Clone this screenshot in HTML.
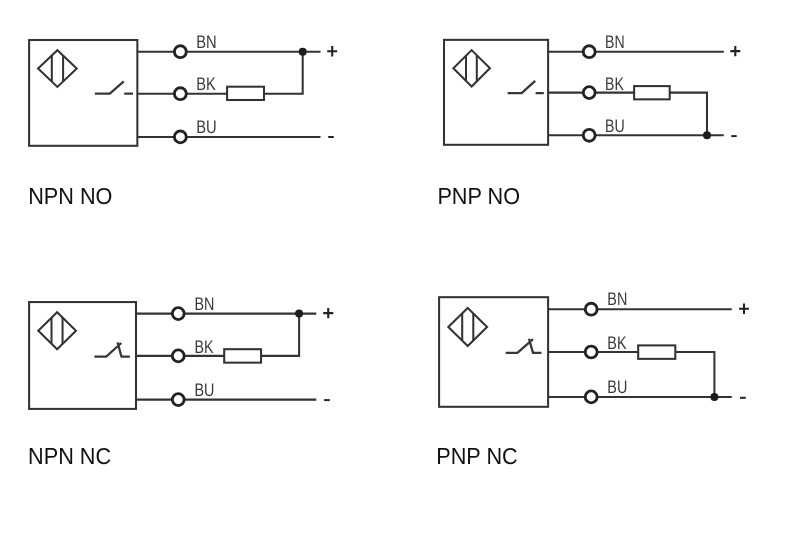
<!DOCTYPE html>
<html><head><meta charset="utf-8"><style>
html,body{margin:0;padding:0;background:#fff;width:789px;height:541px;overflow:hidden}
svg{display:block}
text{font-family:"Liberation Sans",sans-serif;text-rendering:geometricPrecision}
svg{will-change:transform}
</style></head><body>
<svg width="789" height="541" viewBox="0 0 789 541">
<rect width="789" height="541" fill="#fff"/>
<rect x="29.1" y="40" width="108.25" height="105.8" fill="none" stroke="#333" stroke-width="2.05"/>
<path d="M38.05 68.6L57.4 50.25L76.75 68.6L57.4 86.95Z" fill="none" stroke="#333" stroke-width="2.05" stroke-linejoin="miter"/>
<path d="M51.8 55.56V81.64" stroke="#333" stroke-width="2.05"/>
<path d="M63.1 55.66V81.54" stroke="#333" stroke-width="2.05"/>
<path d="M94.9 93.7H109.8L123.8 81.4M124.2 93.7H133" fill="none" stroke="#383838" stroke-width="2.3" stroke-linecap="butt" stroke-linejoin="round"/>
<path d="M137.35 51.7H320.5" stroke="#333" stroke-width="2.05"/>
<path d="M137.35 136.9H320.5" stroke="#333" stroke-width="2.05"/>
<path d="M137.35 93.7H227.1" stroke="#333" stroke-width="2.05"/>
<path d="M264 93.7H302.7V51.7" fill="none" stroke="#333" stroke-width="2.05"/>
<rect x="227.1" y="86.7" width="36.9" height="13.3" fill="#fff" stroke="#333" stroke-width="2.05"/>
<circle cx="302.7" cy="51.7" r="4" fill="#1c1c1c"/>
<circle cx="180.35" cy="51.7" r="5.95" fill="#fff" stroke="#222" stroke-width="2.85"/>
<circle cx="180.35" cy="93.7" r="5.95" fill="#fff" stroke="#222" stroke-width="2.85"/>
<circle cx="180.35" cy="136.9" r="5.95" fill="#fff" stroke="#222" stroke-width="2.85"/>
<text transform="translate(196.3 47.8) scale(0.865 1.08)" font-size="17" fill="#3a3a3a">BN</text>
<text transform="translate(196.3 90.2) scale(0.865 1.08)" font-size="17" fill="#3a3a3a">BK</text>
<text transform="translate(196.3 133.1) scale(0.865 1.08)" font-size="17" fill="#3a3a3a">BU</text>
<path d="M327.2 51.2H337.2M332.2 46V56.4" stroke="#222" stroke-width="2.1"/>
<path d="M328.2 137H333.8" stroke="#222" stroke-width="2"/>
<text transform="translate(28.2 204) scale(0.985 1.05)" font-size="22" fill="#111">NPN NO</text>
<rect x="444" y="39.85" width="104.1" height="104.95" fill="none" stroke="#333" stroke-width="2.05"/>
<path d="M453.4 68.3L471.65 50.1L489.9 68.3L471.65 86.5Z" fill="none" stroke="#333" stroke-width="2.05" stroke-linejoin="miter"/>
<path d="M466 55.73V80.87" stroke="#333" stroke-width="2.05"/>
<path d="M476.8 55.24V81.36" stroke="#333" stroke-width="2.05"/>
<path d="M507.6 93.2H521.6L535.2 80.9M535.6 93.2H543.8" fill="none" stroke="#383838" stroke-width="2.3" stroke-linecap="butt" stroke-linejoin="round"/>
<path d="M548.1 51.7H723.8" stroke="#333" stroke-width="2.05"/>
<path d="M548.1 135.3H723.8" stroke="#333" stroke-width="2.05"/>
<path d="M548.1 92.6H634.1" stroke="#333" stroke-width="2.05"/>
<path d="M669.7 92.6H707V135.3" fill="none" stroke="#333" stroke-width="2.05"/>
<rect x="634.1" y="86.1" width="35.6" height="13.25" fill="#fff" stroke="#333" stroke-width="2.05"/>
<circle cx="707" cy="135.3" r="4" fill="#1c1c1c"/>
<circle cx="589.2" cy="51.7" r="5.95" fill="#fff" stroke="#222" stroke-width="2.85"/>
<circle cx="589.2" cy="92.6" r="5.95" fill="#fff" stroke="#222" stroke-width="2.85"/>
<circle cx="589.2" cy="135.3" r="5.95" fill="#fff" stroke="#222" stroke-width="2.85"/>
<text transform="translate(605 47.5) scale(0.83 1.08)" font-size="17" fill="#3a3a3a">BN</text>
<text transform="translate(605 90.1) scale(0.83 1.08)" font-size="17" fill="#3a3a3a">BK</text>
<text transform="translate(605 132.3) scale(0.83 1.08)" font-size="17" fill="#3a3a3a">BU</text>
<path d="M730.3 51.1H740.3M735.3 45.9V56.3" stroke="#222" stroke-width="2.1"/>
<path d="M731.3 136.1H736.7" stroke="#222" stroke-width="2"/>
<text transform="translate(437.4 204) scale(0.985 1.05)" font-size="22" fill="#111">PNP NO</text>
<rect x="29.1" y="302.05" width="106.9" height="106.85" fill="none" stroke="#333" stroke-width="2.05"/>
<path d="M38.28 330.73L57.13 312.18L75.98 330.73L57.13 349.28Z" fill="none" stroke="#333" stroke-width="2.05" stroke-linejoin="miter"/>
<path d="M51.5 317.72V343.74" stroke="#333" stroke-width="2.05"/>
<path d="M62.55 317.51V343.95" stroke="#333" stroke-width="2.05"/>
<path d="M94.4 356.55H106.2L121.3 343M117.6 342.4L121.4 356.55H129.9" fill="none" stroke="#383838" stroke-width="2.3" stroke-linecap="butt" stroke-linejoin="round"/>
<path d="M136 313.6H316.3" stroke="#333" stroke-width="2.05"/>
<path d="M136 399.6H316.3" stroke="#333" stroke-width="2.05"/>
<path d="M136 355.85H224.2" stroke="#333" stroke-width="2.05"/>
<path d="M261.05 355.85H299.1V313.6" fill="none" stroke="#333" stroke-width="2.05"/>
<rect x="224.2" y="349.2" width="36.85" height="13.45" fill="#fff" stroke="#333" stroke-width="2.05"/>
<circle cx="299.1" cy="313.6" r="4" fill="#1c1c1c"/>
<circle cx="178.25" cy="313.6" r="5.95" fill="#fff" stroke="#222" stroke-width="2.85"/>
<circle cx="178.25" cy="355.85" r="5.95" fill="#fff" stroke="#222" stroke-width="2.85"/>
<circle cx="178.25" cy="399.6" r="5.95" fill="#fff" stroke="#222" stroke-width="2.85"/>
<text transform="translate(194.4 310) scale(0.845 1.08)" font-size="17" fill="#3a3a3a">BN</text>
<text transform="translate(194.4 352.6) scale(0.845 1.08)" font-size="17" fill="#3a3a3a">BK</text>
<text transform="translate(194.4 396.1) scale(0.845 1.08)" font-size="17" fill="#3a3a3a">BU</text>
<path d="M323.25 313.1H333.25M328.25 307.9V318.3" stroke="#222" stroke-width="2.1"/>
<path d="M324.1 400.1H329.8" stroke="#222" stroke-width="2"/>
<text transform="translate(28.1 464) scale(0.985 1.05)" font-size="22" fill="#111">NPN NC</text>
<rect x="439.1" y="297.2" width="109" height="109.6" fill="none" stroke="#333" stroke-width="2.05"/>
<path d="M448.32 327L467.7 307.94L487.08 327L467.7 346.06Z" fill="none" stroke="#333" stroke-width="2.05" stroke-linejoin="miter"/>
<path d="M462.2 313.35V340.65" stroke="#333" stroke-width="2.05"/>
<path d="M473.3 313.45V340.55" stroke="#333" stroke-width="2.05"/>
<path d="M505.7 352.9H517.4L533 339.1M529 338.7L533 352.9H541.5" fill="none" stroke="#383838" stroke-width="2.3" stroke-linecap="butt" stroke-linejoin="round"/>
<path d="M548.1 309.2H731.8" stroke="#333" stroke-width="2.05"/>
<path d="M548.1 396.9H731.8" stroke="#333" stroke-width="2.05"/>
<path d="M548.1 352H638.2" stroke="#333" stroke-width="2.05"/>
<path d="M675.3 352H714.4V396.9" fill="none" stroke="#333" stroke-width="2.05"/>
<rect x="638.2" y="345.4" width="37.1" height="13.45" fill="#fff" stroke="#333" stroke-width="2.05"/>
<circle cx="714.4" cy="396.9" r="4" fill="#1c1c1c"/>
<circle cx="591.2" cy="309.2" r="5.95" fill="#fff" stroke="#222" stroke-width="2.85"/>
<circle cx="591.2" cy="352" r="5.95" fill="#fff" stroke="#222" stroke-width="2.85"/>
<circle cx="591.2" cy="396.9" r="5.95" fill="#fff" stroke="#222" stroke-width="2.85"/>
<text transform="translate(607.3 305.2) scale(0.845 1.08)" font-size="17" fill="#3a3a3a">BN</text>
<text transform="translate(607.3 349.1) scale(0.845 1.08)" font-size="17" fill="#3a3a3a">BK</text>
<text transform="translate(607.3 393.2) scale(0.845 1.08)" font-size="17" fill="#3a3a3a">BU</text>
<path d="M739 308.8H749M744 303.6V314" stroke="#222" stroke-width="2.1"/>
<path d="M740 397.8H745.8" stroke="#222" stroke-width="2"/>
<text transform="translate(436.2 464) scale(0.985 1.05)" font-size="22" fill="#111">PNP NC</text>
</svg>
</body></html>
